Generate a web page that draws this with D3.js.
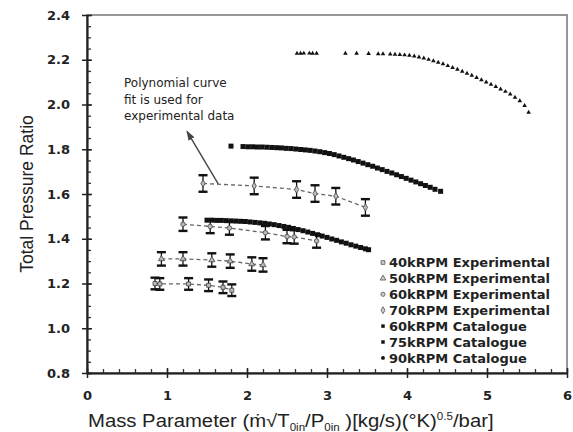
<!DOCTYPE html>
<html>
<head>
<meta charset="utf-8">
<script src="https://cdn.jsdelivr.net/npm/d3@7"></script>
<style>
    body { margin: 0; background: #fff; }
    svg { display: block; }
</style>
</head>
<body>
<svg id="chart" width="573" height="432"></svg>
<script>
// values
var xTicks = [0, 1, 2, 3, 4, 5, 6];
var yTicks = [0.8, 1.0, 1.2, 1.4, 1.6, 1.8, 2.0, 2.2, 2.4];

// experimental points [mass parameter, pressure ratio] + error bar half height
var exp40 = [[0.85, 1.200], [0.91, 1.198], [1.27, 1.198], [1.52, 1.192], [1.70, 1.183], [1.81, 1.170]];
var exp50 = [[0.93, 1.310], [1.20, 1.310], [1.56, 1.305], [1.79, 1.300], [2.06, 1.287], [2.20, 1.283]];
var exp60 = [[1.20, 1.465], [1.54, 1.455], [1.78, 1.448], [2.23, 1.427], [2.50, 1.410], [2.59, 1.408], [2.87, 1.390]];
var exp70 = [[1.45, 1.647], [2.09, 1.636], [2.62, 1.620], [2.85, 1.602], [3.11, 1.590], [3.48, 1.540]];
var expErr = [0.026, 0.03, 0.03, 0.037];

// catalogue curves
var cat60 = [[1.50, 1.483], [1.56, 1.483], [1.62, 1.482], [1.68, 1.482], [1.74, 1.481], [1.80, 1.480],
    [1.86, 1.479], [1.92, 1.478], [1.98, 1.477], [2.04, 1.475], [2.10, 1.473], [2.16, 1.471],
    [2.22, 1.469], [2.28, 1.466], [2.34, 1.463], [2.40, 1.459], [2.46, 1.455], [2.52, 1.451],
    [2.58, 1.446], [2.64, 1.441], [2.70, 1.436], [2.76, 1.430], [2.82, 1.424], [2.88, 1.418],
    [2.94, 1.412], [3.00, 1.406], [3.06, 1.399], [3.12, 1.393], [3.18, 1.386], [3.24, 1.380],
    [3.30, 1.373], [3.36, 1.367], [3.42, 1.361], [3.48, 1.355], [3.52, 1.351]];
var cat75 = [[1.80, 1.814], [1.95, 1.812], [2.01, 1.811], [2.07, 1.811], [2.13, 1.810], [2.19, 1.810],
    [2.25, 1.809], [2.31, 1.808], [2.37, 1.807], [2.43, 1.806], [2.49, 1.804], [2.55, 1.803],
    [2.61, 1.801], [2.67, 1.799], [2.73, 1.797], [2.79, 1.795], [2.85, 1.792], [2.91, 1.789],
    [2.97, 1.785], [3.03, 1.781], [3.09, 1.776], [3.15, 1.770], [3.21, 1.764], [3.27, 1.758],
    [3.33, 1.752], [3.39, 1.745], [3.45, 1.738], [3.51, 1.731], [3.57, 1.724], [3.63, 1.716],
    [3.69, 1.709], [3.75, 1.701], [3.81, 1.694], [3.87, 1.686], [3.93, 1.678], [3.99, 1.670],
    [4.05, 1.662], [4.11, 1.654], [4.17, 1.646], [4.23, 1.638], [4.29, 1.630], [4.35, 1.621], [4.42, 1.612]];
var cat90 = [[2.625, 2.228], [2.67, 2.228], [2.71, 2.229], [2.78, 2.229], [2.82, 2.228], [2.87, 2.228],
    [3.23, 2.228], [3.37, 2.228], [3.52, 2.227], [3.64, 2.226], [3.70, 2.226], [3.79, 2.225],
    [3.85, 2.224], [3.91, 2.223], [3.97, 2.221], [4.03, 2.219], [4.09, 2.216], [4.15, 2.212],
    [4.21, 2.207], [4.27, 2.201], [4.33, 2.195], [4.39, 2.188], [4.45, 2.181], [4.51, 2.173],
    [4.57, 2.165], [4.63, 2.157], [4.69, 2.148], [4.75, 2.139], [4.81, 2.130], [4.87, 2.120],
    [4.93, 2.110], [4.99, 2.100], [5.05, 2.090], [5.11, 2.080], [5.17, 2.069], [5.23, 2.058],
    [5.29, 2.046], [5.35, 2.032], [5.41, 2.016], [5.47, 1.995], [5.52, 1.965]];

var legendLabels = ["40kRPM Experimental", "50kRPM Experimental", "60kRPM Experimental", "70kRPM Experimental",
    "60kRPM Catalogue", "75kRPM Catalogue", "90kRPM Catalogue"];
var noteLines = ["Polynomial curve", "fit is used for", "experimental data"];
// arrow from the fit line to the note, [x, y] in data units
var arrowFrom = [1.64, 1.645];
var arrowTo = [1.25, 1.88];

var x = d3.scaleLinear().domain([0, 6]).range([87, 567]);
var y = d3.scaleLinear().domain([0.8, 2.4]).range([373, 15]);
var svg = d3.select('#chart');
var tickFont = 'DejaVu Sans, sans-serif';

// frame (top and right sides are grey)
svg.append('rect')
    .attr('x', x(0)).attr('y', y(2.4))
    .attr('width', x(6) - x(0)).attr('height', y(0.8) - y(2.4))
    .attr('fill', 'none').attr('stroke', '#8c8c8c').attr('stroke-width', 1.8);

// minor ticks, pointing inwards
svg.append('g').attr('class', 'minor')
    .attr('transform', 'translate(0,' + y(0.8) + ')')
    .call(d3.axisTop(x).tickValues(x.ticks(30)).tickSizeInner(4).tickSizeOuter(0).tickFormat(''));
svg.append('g').attr('class', 'minor')
    .attr('transform', 'translate(' + x(0) + ',0)')
    .call(d3.axisRight(y).tickValues(y.ticks(40)).tickSizeInner(4).tickSizeOuter(0).tickFormat(''));

// major ticks cross the axes
svg.append('g').attr('class', 'major')
    .attr('transform', 'translate(0,' + y(0.8) + ')')
    .call(d3.axisTop(x).tickValues(xTicks).tickSizeInner(5).tickSizeOuter(0).tickFormat(''));
svg.append('g').attr('class', 'major')
    .attr('transform', 'translate(' + x(0) + ',0)')
    .call(d3.axisRight(y).tickValues(yTicks).tickSizeInner(5).tickSizeOuter(0).tickFormat(''));

svg.append('g').attr('class', 'major')
    .attr('transform', 'translate(0,' + y(0.8) + ')')
    .call(d3.axisBottom(x).tickValues(xTicks).tickSizeInner(5).tickSizeOuter(0).tickPadding(13).tickFormat(d3.format('d')));
svg.append('g').attr('class', 'major')
    .attr('transform', 'translate(' + x(0) + ',0)')
    .call(d3.axisLeft(y).tickValues(yTicks).tickSizeInner(5).tickSizeOuter(0).tickPadding(12).tickFormat(d3.format('.1f')));

svg.selectAll('.minor path, .major path').attr('stroke', '#222').attr('stroke-width', 1.5);
svg.selectAll('.minor line').attr('stroke', '#333').attr('stroke-width', 1.3);
svg.selectAll('.major line').attr('stroke', '#222').attr('stroke-width', 1.5);
svg.selectAll('.major text')
    .attr('font-family', tickFont).attr('font-weight', 'bold')
    .attr('font-size', 13).attr('fill', '#222');

// axis titles
svg.append('text')
    .attr('transform', 'translate(33,194) rotate(-90)')
    .attr('text-anchor', 'middle')
    .attr('font-family', 'Liberation Sans, Arial, sans-serif')
    .attr('font-size', 17.5).attr('fill', '#222')
    .text('Total Pressure Ratio');

// the title is stretched a little, as in the picture
var xt = svg.append('text')
    .attr('transform', 'translate(88,427) scale(1.16,1)')
    .attr('font-family', 'Liberation Sans, Arial, sans-serif')
    .attr('font-size', 17.5).attr('fill', '#222');
xt.append('tspan').text('Mass Parameter (\u1E41\u221AT');
xt.append('tspan').attr('font-size', 10).attr('dy', 4).text('0in');
xt.append('tspan').attr('dy', -4).text('/P');
xt.append('tspan').attr('font-size', 10).attr('dy', 4).text('0in');
xt.append('tspan').attr('dy', -4).text(' )[kg/s)(\u00B0K)');
xt.append('tspan').attr('font-size', 10).attr('dy', -7).text('0.5');
xt.append('tspan').attr('dy', 7).text('/bar]');

// experimental series: dashed fit line, error bars, small markers
var expSeries = [
    { data: exp40, err: expErr[0], shape: d3.symbolSquare },
    { data: exp50, err: expErr[1], shape: d3.symbolTriangle },
    { data: exp60, err: expErr[2], shape: d3.symbolCircle },
    { data: exp70, err: expErr[3], shape: d3.symbolDiamond }
];
var line = d3.line().x(function (d) { return x(d[0]); }).y(function (d) { return y(d[1]); });

expSeries.forEach(function (s) {
    svg.append('path').datum(s.data)
        .attr('d', line).attr('fill', 'none')
        .attr('stroke', '#666').attr('stroke-width', 1.3).attr('stroke-dasharray', '4,3');

    var g = svg.append('g').selectAll('g').data(s.data).enter().append('g');
    g.append('line')
        .attr('x1', function (d) { return x(d[0]); }).attr('x2', function (d) { return x(d[0]); })
        .attr('y1', function (d) { return y(d[1] - s.err); }).attr('y2', function (d) { return y(d[1] + s.err); })
        .attr('stroke', '#111').attr('stroke-width', 1.3);
    [-1, 1].forEach(function (k) {
        g.append('line')
            .attr('x1', function (d) { return x(d[0]) - 4.5; }).attr('x2', function (d) { return x(d[0]) + 4.5; })
            .attr('y1', function (d) { return y(d[1] + k * s.err); }).attr('y2', function (d) { return y(d[1] + k * s.err); })
            .attr('stroke', '#111').attr('stroke-width', 2.4);
    });
    g.append('path')
        .attr('transform', function (d) { return 'translate(' + x(d[0]) + ',' + y(d[1]) + ')'; })
        .attr('d', d3.symbol().type(s.shape).size(16))
        .attr('fill', '#bbb').attr('stroke', '#444').attr('stroke-width', 0.8);
});

// catalogue series
var catSeries = [
    { data: cat60, shape: d3.symbolSquare, size: 25 },
    { data: cat75, shape: d3.symbolSquare, size: 25 },
    { data: cat90, shape: d3.symbolTriangle, size: 9 }
];
catSeries.forEach(function (s) {
    svg.append('g').selectAll('path').data(s.data).enter().append('path')
        .attr('transform', function (d) { return 'translate(' + x(d[0]) + ',' + y(d[1]) + ')'; })
        .attr('d', d3.symbol().type(s.shape).size(s.size))
        .attr('fill', '#111');
});

// note and arrow
svg.append('defs').append('marker')
    .attr('id', 'head').attr('viewBox', '0 0 10 10')
    .attr('refX', 9).attr('refY', 5)
    .attr('markerWidth', 7).attr('markerHeight', 7)
    .attr('orient', 'auto')
    .append('path').attr('d', 'M0,1.5L10,5L0,8.5Z').attr('fill', '#444');

svg.append('line')
    .attr('x1', x(arrowFrom[0])).attr('y1', y(arrowFrom[1]))
    .attr('x2', x(arrowTo[0])).attr('y2', y(arrowTo[1]))
    .attr('stroke', '#444').attr('stroke-width', 1.4)
    .attr('marker-end', 'url(#head)');

svg.append('g').selectAll('text').data(noteLines).enter().append('text')
    .attr('x', x(0.4625))
    .attr('y', function (d, i) { return y(2.4) + 72 + i * 16.5; })
    .attr('font-family', tickFont).attr('font-size', 12)
    .attr('fill', '#222')
    .text(function (d) { return d; });

// legend
var legendShapes = [d3.symbolSquare, d3.symbolTriangle, d3.symbolCircle, d3.symbolDiamond,
    d3.symbolSquare, d3.symbolSquare, d3.symbolCircle];
var leg = svg.append('g').selectAll('g').data(legendLabels).enter().append('g')
    .attr('transform', function (d, i) { return 'translate(383,' + (262.5 + i * 15.9) + ')'; });
leg.append('path')
    .attr('d', function (d, i) { return d3.symbol().type(legendShapes[i]).size(i < 4 ? 14 : 12)(); })
    .attr('fill', function (d, i) { return i < 4 ? '#ccc' : '#111'; })
    .attr('stroke', function (d, i) { return i < 4 ? '#555' : 'none'; })
    .attr('stroke-width', 0.8);
leg.append('text')
    .attr('x', 6).attr('dy', '0.36em')
    .attr('font-family', tickFont).attr('font-weight', 'bold')
    .attr('font-size', 13).attr('fill', '#222')
    .text(function (d) { return d; });
</script>
</body>
</html>
